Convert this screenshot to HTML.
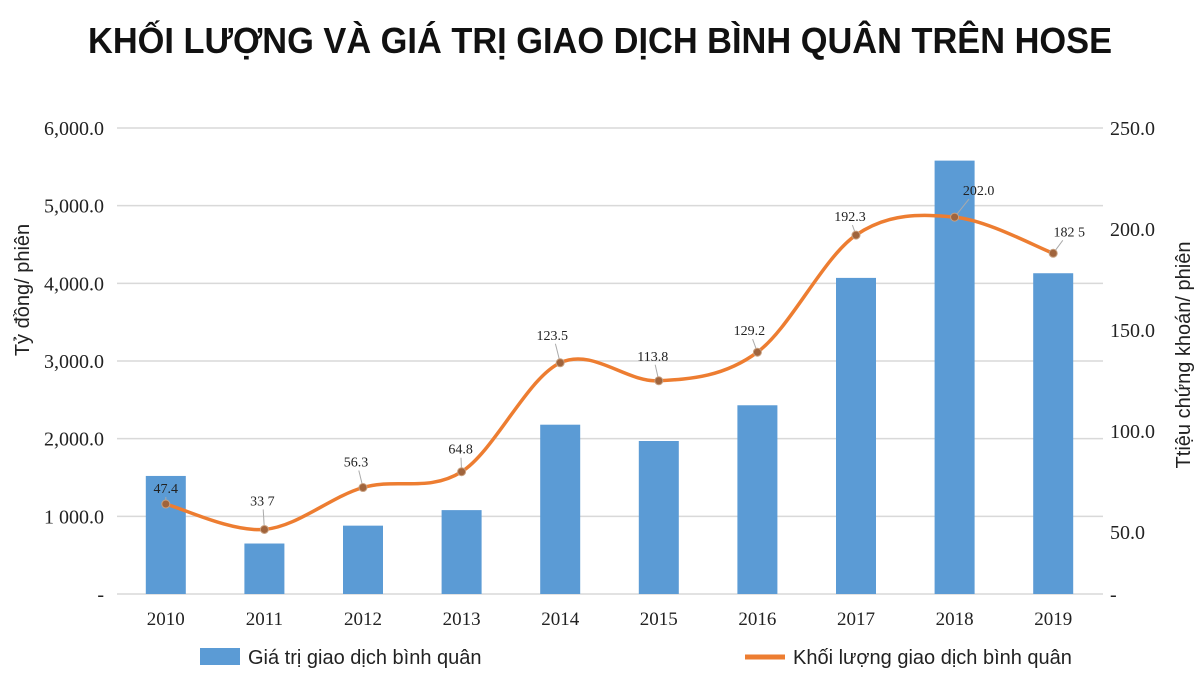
<!DOCTYPE html>
<html><head><meta charset="utf-8">
<style>
html,body{margin:0;padding:0;background:#fff;}
svg{display:block;}
</style></head>
<body>
<svg id="chart" width="1200" height="700" viewBox="0 0 1200 700" xmlns="http://www.w3.org/2000/svg">
<text x="600" y="53" text-anchor="middle" font-family="'Liberation Sans', sans-serif" font-weight="bold" font-size="36" textLength="1024" lengthAdjust="spacingAndGlyphs" fill="#111">KHỐI LƯỢNG VÀ GIÁ TRỊ GIAO DỊCH BÌNH QUÂN TRÊN HOSE</text>
<g id="grid"></g>
<g id="bars"></g>
<g id="line"></g>
<g id="axes"></g>
<text transform="translate(29,290) rotate(-90)" text-anchor="middle" font-family="'Liberation Sans', sans-serif" font-size="20" fill="#222">Tỷ đồng/ phiên</text>
<text transform="translate(1190,355) rotate(-90)" text-anchor="middle" font-family="'Liberation Sans', sans-serif" font-size="20" fill="#222">Ttiệu chứng khoán/ phiên</text>
<g>
<rect x="200" y="648" width="40" height="17" fill="#5b9bd5"/>
<text x="248" y="664" font-family="'Liberation Sans', sans-serif" font-size="20" fill="#222">Giá trị giao dịch bình quân</text>
<line x1="745" y1="657" x2="785" y2="657" stroke="#ed7d31" stroke-width="5"/>
<text x="793" y="664" font-family="'Liberation Sans', sans-serif" font-size="20" fill="#222">Khối lượng giao dịch bình quân</text>
</g>
</svg>
<script>
const categories = ['2010','2011','2012','2013','2014','2015','2016','2017','2018','2019'];
const valueSeries = [1520, 650, 880, 1080, 2180, 1970, 2430, 4070, 5580, 4130];
const volumeSeries = [47.4, 33.7, 56.3, 64.8, 123.5, 113.8, 129.2, 192.3, 202.0, 182.5];
const volumeLabels = ['47.4','33 7','56.3','64.8','123.5','113.8','129.2','192.3','202.0','182 5'];
const leftTicks = [0, 1000, 2000, 3000, 4000, 5000, 6000];
const leftTickLabels = ['-', '1 000.0', '2,000.0', '3,000.0', '4,000.0', '5,000.0', '6,000.0'];
const rightTicks = [0, 50, 100, 150, 200, 250];
const rightTickLabels = ['-', '50.0', '100.0', '150.0', '200.0', '250.0'];

const NS = 'http://www.w3.org/2000/svg';
const X0 = 117, X1 = 1103, YB = 594, YT = 128;
const step = (X1 - X0) / categories.length;
function xScale(i){ return X0 + step * (i + 0.5) - 0.5; }
function yLeft(v){ return YB - (v / 6000) * (YB - YT); }
function yRight(v){ return 592 - v * 1.856; }
function yRightLabel(v){ return v === 0 ? YB : YT + (250 - v) * 2.02; }
function mk(tag, attrs, parent){ const e = document.createElementNS(NS, tag); for (const k in attrs) e.setAttribute(k, attrs[k]); parent.appendChild(e); return e; }

const grid = document.getElementById('grid'), axes = document.getElementById('axes');
leftTicks.forEach((v, i) => {
  const y = yLeft(v);
  const gl = mk('line', {x1: X0, x2: X1, y1: y, y2: y, stroke: '#d9d9d9', 'stroke-width': 1.5}, grid);
  
  
  const t = mk('text', {x: 104, y: y + 7, 'text-anchor': 'end', 'font-family': "'Liberation Serif', serif", 'font-size': 20, fill: '#222'}, axes);
  t.textContent = leftTickLabels[i];
  
  
});
rightTicks.forEach((v, i) => {
  const t = mk('text', {x: 1110, y: yRightLabel(v) + 7, 'font-family': "'Liberation Serif', serif", 'font-size': 20, fill: '#222'}, axes);
  t.textContent = rightTickLabels[i];
  
  
});
categories.forEach((c, i) => {
  const t = mk('text', {x: xScale(i), y: 625, 'text-anchor': 'middle', 'font-family': "'Liberation Serif', serif", 'font-size': 19, fill: '#222'}, axes);
  t.textContent = c;
  
  
});

const bars = document.getElementById('bars');
valueSeries.forEach((v, i) => {
  const y = yLeft(v);
  const r = mk('rect', {x: xScale(i) - 20, y: y, width: 40, height: YB - y, fill: '#5b9bd5'}, bars);
  
  
});

const lineG = document.getElementById('line');
const pts = volumeSeries.map((v, i) => [xScale(i), yRight(v)]);
let d = 'M' + pts[0][0] + ',' + pts[0][1];
const tension = 0.5;
for (let i = 0; i < pts.length - 1; i++) {
  const p0 = pts[Math.max(0, i - 1)], p1 = pts[i], p2 = pts[i + 1], p3 = pts[Math.min(pts.length - 1, i + 2)];
  const c1 = [p1[0] + (p2[0] - p0[0]) * tension / 3, p1[1] + (p2[1] - p0[1]) * tension / 3];
  const c2 = [p2[0] - (p3[0] - p1[0]) * tension / 3, p2[1] - (p3[1] - p1[1]) * tension / 3];
  d += ' C' + c1.join(',') + ' ' + c2.join(',') + ' ' + p2.join(',');
}
const path = mk('path', {d: d, fill: 'none', stroke: '#ed7d31', 'stroke-width': 3.5}, lineG);


const labelOffsets = [[0,-15],[-2,-28],[-7,-25],[-1,-22],[-8,-27],[-6,-24],[-8,-21],[-6,-18],[24,-26],[16,-21]];
pts.forEach((p, i) => {
  const o = labelOffsets[i];
  const ll = mk('line', {x1: p[0], y1: p[1], x2: p[0] + o[0] * 0.6, y2: p[1] + o[1] + 8, stroke: '#aaa', 'stroke-width': 1}, lineG);
  
  
  const c = mk('circle', {cx: p[0], cy: p[1], r: 4, fill: '#a0643c', stroke: '#c8a080', 'stroke-width': 1}, lineG);
  
  
  const t = mk('text', {x: p[0] + o[0], y: p[1] + o[1] + 4, 'text-anchor': 'middle', 'font-family': "'Liberation Serif', serif", 'font-size': 14, fill: '#222'}, lineG);
  t.textContent = volumeLabels[i];
  
  
});
</script>
</body></html>
